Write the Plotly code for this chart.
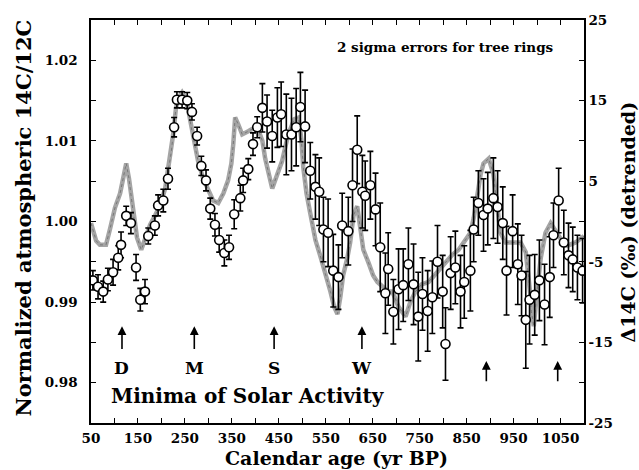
import plotly.graph_objects as go

# ---- data ----
# tree-ring Delta14C (detrended, permil) with 2-sigma errors
tree_x = [54, 65, 76, 86, 97, 108, 114, 125, 135, 146,
          155, 165, 172, 186, 193, 204, 214, 227, 233, 244,
          255, 265, 276, 285, 295, 304, 314, 323, 334, 344,
          355, 368, 374, 385, 395, 404, 415, 425, 436, 447,
          455, 466, 477, 487, 496, 506, 517, 528, 536, 545,
          555, 566, 577, 585, 598, 607, 617, 628, 634, 645,
          656, 666, 677, 683, 694, 705, 715, 726, 737, 747,
          756, 767, 777, 788, 799, 805, 816, 826, 837, 845,
          858, 865, 875, 886, 895, 907, 916, 927, 935, 948,
          959, 967, 976, 984, 995, 1005, 1016, 1027, 1035, 1046,
          1057, 1067, 1076, 1086, 1097]
tree_d14c = [-7.3, -8.1, -8.7, -7.2, -6.3, -4.5, -2.9, 0.7, -0.2, -5.7,
             -9.7, -8.7, -1.8, -0.5, 2.0, 2.6, 5.3, 11.7, 15.1, 15.1,
             15.0, 13.6, 10.6, 6.9, 5.1, 1.6, -0.4, -2.3, -3.9, -3.2,
             0.9, 2.9, 5.1, 6.5, 9.6, 11.7, 14.1, 12.4, 10.6, 12.9,
             13.3, 10.8, 10.8, 11.7, 14.2, 11.8, 6.3, 4.3, 3.7, -1.0,
             -1.4, -6.1, -6.9, -0.5, -1.2, 4.5, 8.9, 3.7, 3.2, 4.5,
             1.5, -3.2, -8.9, -5.9, -11.2, -8.4, -7.9, -5.3, -7.8, -11.8,
             -9.0, -11.1, -9.4, -5.0, -8.7, -15.2, -6.4, -5.7, -8.7, -7.5,
             -6.1, -1.0, 2.3, 0.8, 1.6, 2.9, 1.8, -0.2, -6.1, -1.2,
             -5.3, -6.7, -12.2, -9.7, -9.1, -7.3, -10.3, -6.9, -1.7, 2.6,
             -2.6, -4.2, -4.7, -5.7, -6.1]
tree_err = [1.2, 1.5, 1.3, 1.4, 1.6, 1.5, 1.6, 1.2, 1.3, 1.6,
            1.4, 1.5, 1.0, 1.2, 1.3, 1.4, 1.3, 1.2, 1.0, 1.0,
            1.0, 1.0, 1.1, 1.2, 1.3, 1.3, 1.4, 1.5, 1.6, 1.5,
            1.8, 1.6, 1.5, 1.3, 1.4, 1.3, 3.0, 3.3, 3.2, 3.7,
            4.0, 5.0, 4.5, 4.8, 4.3, 4.5, 3.5, 4.0, 4.2, 4.0,
            4.2, 4.5, 4.0, 4.0, 4.2, 4.5, 4.2, 4.5, 4.3, 4.2,
            4.5, 5.5, 5.0, 4.5, 4.0, 5.0, 4.5, 4.5, 5.0, 5.5,
            4.5, 5.0, 4.5, 4.5, 4.5, 4.5, 4.5, 4.5, 4.5, 4.5,
            5.0, 4.0, 4.0, 4.5, 4.5, 5.0, 4.5, 4.5, 5.5, 4.5,
            5.0, 5.0, 6.0, 5.5, 5.0, 5.0, 5.0, 5.0, 4.0, 4.0,
            4.0, 4.0, 4.0, 4.0, 4.0]

# normalized atmospheric 14C/12C (grey curve)
model_x = [50, 61, 69, 82, 91, 101, 112, 120, 125, 131,
           140, 148, 157, 167, 176, 187, 197, 208, 214, 221,
           225, 231, 238, 244, 251, 257, 265, 272, 278, 289,
           300, 310, 321, 332, 342, 349, 353, 357, 364, 372,
           385, 400, 408, 415, 421, 428, 436, 447, 457, 470,
           483, 492, 498, 502, 509, 517, 528, 538, 549, 560,
           568, 575, 581, 587, 596, 602, 609, 617, 624, 630,
           641, 651, 660, 673, 683, 692, 705, 720, 730, 741,
           754, 769, 786, 805, 820, 833, 848, 858, 865, 873,
           880, 886, 897, 907, 916, 922, 933, 948, 965, 976,
           982, 988, 993, 1001, 1008, 1018, 1029, 1042, 1055, 1065,
           1082, 1100]
model_ratio = [0.9998, 0.9976, 0.9971, 0.9971, 0.9992, 1.0017, 1.0035, 1.0057, 1.0072, 1.0053,
               1.0010, 0.9980, 0.9965, 0.9980, 0.9996, 1.0008, 1.0020, 1.0041, 1.0063, 1.0086,
               1.0108, 1.0141, 1.0155, 1.0160, 1.0153, 1.0139, 1.0112, 1.0090, 1.0075, 1.0053,
               1.0039, 1.0026, 1.0023, 1.0035, 1.0051, 1.0072, 1.0096, 1.0129, 1.0120, 1.0108,
               1.0112, 1.0117, 1.0111, 1.0100, 1.0078, 1.0059, 1.0041, 1.0059, 1.0075, 1.0108,
               1.0127, 1.0129, 1.0102, 1.0068, 1.0035, 1.0010, 0.9977, 0.9958, 0.9937, 0.9913,
               0.9894, 0.9885, 0.9906, 0.9933, 0.9955, 0.9974, 1.0007, 1.0019, 0.9990, 0.9965,
               0.9949, 0.9933, 0.9925, 0.9919, 0.9913, 0.9913, 0.9894, 0.9882, 0.9900, 0.9913,
               0.9922, 0.9925, 0.9937, 0.9949, 0.9959, 0.9965, 0.9977, 0.9986, 1.0004, 1.0035,
               1.0059, 1.0072, 1.0078, 1.0059, 1.0010, 0.9986, 0.9974, 0.9974, 0.9974, 0.9962,
               0.9931, 0.9888, 0.9870, 0.9919, 0.9955, 0.9986, 0.9998, 0.9986, 0.9974, 0.9970,
               0.9974, 0.9982]

# solar minima arrows
minima_labels = ["D", "M", "S", "W", "", ""]
minima_x = [116, 270, 440, 627, 892, 1044]
arrow_tip = [0.9870, 0.9870, 0.9870, 0.9870, 0.9827, 0.9827]
arrow_base = [0.9840, 0.9840, 0.9840, 0.9840, 0.9800, 0.9800]

x_tickvals = list(range(50, 1101, 50))
x_ticktext = [str(v) if (v - 50) % 100 == 0 and v <= 1050 else "" for v in x_tickvals]
left_tickvals = [0.975 + 0.005 * i for i in range(11)]
left_ticktext = ["", "0.98", "", "0.99", "", "1.00", "", "1.01", "", "1.02", ""]
right_tickvals = list(range(-25, 26, 5))
right_ticktext = [str(v) if v % 10 != 0 else "" for v in right_tickvals]

SERIF = "DejaVu Serif"
tickfont = dict(family=SERIF, size=13.5, color="black", weight="bold")

fig = go.Figure()
fig.add_trace(go.Scatter(
    x=model_x, y=model_ratio, mode="lines",
    line=dict(color="rgb(165,165,165)", width=4.5),
    yaxis="y", showlegend=False, hoverinfo="skip"))
fig.add_trace(go.Scatter(
    x=model_x, y=model_ratio, mode="lines",
    line=dict(color="rgb(120,120,120)", width=1, dash="dot"),
    yaxis="y", showlegend=False, hoverinfo="skip"))
fig.add_trace(go.Scatter(
    x=tree_x, y=tree_d14c, mode="markers", yaxis="y2",
    error_y=dict(type="data", array=tree_err, visible=True,
                 color="black", thickness=1.6, width=3),
    marker=dict(symbol="circle", size=9, color="white",
                line=dict(color="black", width=1.6)),
    showlegend=False))

annotations = []
for lab, xv, yt, yb in zip(minima_labels, minima_x, arrow_tip, arrow_base):
    annotations.append(dict(x=xv, y=yt, ax=xv, ay=yb, xref="x", yref="y",
                            axref="x", ayref="y", showarrow=True, text="",
                            arrowhead=2, arrowsize=1.1, arrowwidth=1.6,
                            arrowcolor="black"))
    if lab:
        annotations.append(dict(x=xv, y=0.9818, xref="x", yref="y", text=lab,
                                showarrow=False,
                                font=dict(family=SERIF, size=17, color="black", weight="bold")))
annotations.append(dict(x=88, y=0.9783, xref="x", yref="y", xanchor="left",
                        text="Minima of Solar Activity", showarrow=False,
                        font=dict(family=SERIF, size=20, color="black", weight="bold")))
annotations.append(dict(x=570, y=1.0216, xref="x", yref="y", xanchor="left",
                        text="2 sigma errors for tree rings", showarrow=False,
                        font=dict(family=SERIF, size=13.5, color="black", weight="bold")))
annotations.append(dict(x=-0.136, y=0.51, xref="paper", yref="paper", textangle=-90,
                        xanchor="center", yanchor="middle",
                        text="Normalized atmospheric 14C/12C", showarrow=False,
                        font=dict(family=SERIF, size=21, color="black", weight="bold")))
annotations.append(dict(x=1.089, y=0.5, xref="paper", yref="paper", textangle=-90,
                        xanchor="center", yanchor="middle",
                        text="Δ14C (‰) (detrended)", showarrow=False,
                        font=dict(family=SERIF, size=19, color="black", weight="bold")))
annotations.append(dict(x=0.497, y=-0.087, xref="paper", yref="paper",
                        xanchor="center", yanchor="middle",
                        text="Calendar age (yr BP)", showarrow=False,
                        font=dict(family=SERIF, size=19, color="black", weight="bold")))

fig.update_layout(
    width=639, height=470,
    margin=dict(l=91, r=55, t=14, b=47),
    paper_bgcolor="white", plot_bgcolor="white",
    xaxis=dict(range=[50, 1100], tickvals=x_tickvals, ticktext=x_ticktext,
               ticks="inside", ticklen=5, tickwidth=1.3, tickcolor="black",
               showline=True, linecolor="black", linewidth=1.5, mirror="ticks",
               showgrid=False, zeroline=False, tickfont=tickfont,
               ticklabelstandoff=2),
    yaxis=dict(range=[0.975, 1.025], tickvals=left_tickvals, ticktext=left_ticktext,
               ticks="inside", ticklen=5, tickwidth=1.3, tickcolor="black",
               showline=True, linecolor="black", linewidth=1.5,
               showgrid=False, zeroline=False, tickfont=tickfont,
               ticklabelstandoff=9),
    yaxis2=dict(range=[-25, 25], tickvals=right_tickvals, ticktext=right_ticktext,
                overlaying="y", side="right",
                ticks="inside", ticklen=5, tickwidth=1.3, tickcolor="black",
                showline=True, linecolor="black", linewidth=1.5,
                showgrid=False, zeroline=False, tickfont=tickfont),
    annotations=annotations,
)

fig.write_html("out.html", config={"displayModeBar": False},
               post_script="document.body.style.margin='0px';document.body.style.padding='0px';")
